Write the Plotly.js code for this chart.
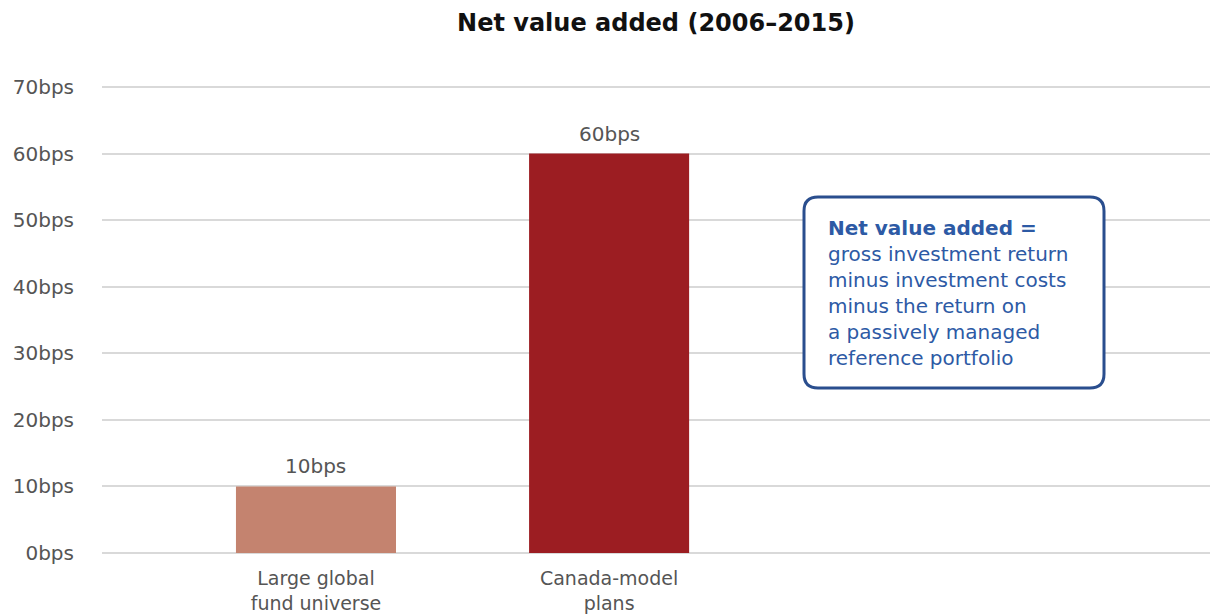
<!DOCTYPE html>
<html>
<head>
<meta charset="utf-8">
<script src="https://cdn.plot.ly/plotly-3.0.1.min.js"></script>
<style>html,body{margin:0;padding:0;background:#fff;}#chart{width:1210px;height:615px;}</style>
</head>
<body>
<div id="chart"></div>
<script>
const categories = ["Large global<br>fund universe", "Canada-model<br>plans"];
const values = [10, 60];
const barColors = ["#c4836f", "#9c1d22"];
const yTickValues = [0, 10, 20, 30, 40, 50, 60, 70];
const yTickLabels = ["0bps", "10bps", "20bps", "30bps", "40bps", "50bps", "60bps", "70bps"];
const barLabels = ["10bps", "60bps"];
const titleText = "Net value added (2006–2015)";
const boxText = "<b>Net value added =</b><br>gross investment return<br>minus investment costs<br>minus the return on<br>a passively managed<br>reference portfolio";

const FONT = "DejaVu Sans, Noto Sans, sans-serif";
const L = 102, R = 0, T = 86, B = 62, W = 1210, H = 615;
const pw = W - L - R, ph = H - T - B;
const YMAX = 70.15;
function px(x) { return (x - L) / pw; }
function py(y) { return (H - B - y) / ph; }

const bx0 = px(804), bx1 = px(1104), byT = py(197), byB = py(388);
const rx = 14 / pw, ry = 14 / ph;
const boxPath = `M ${bx0+rx},${byT} L ${bx1-rx},${byT} Q ${bx1},${byT} ${bx1},${byT-ry} ` +
  `L ${bx1},${byB+ry} Q ${bx1},${byB} ${bx1-rx},${byB} L ${bx0+rx},${byB} ` +
  `Q ${bx0},${byB} ${bx0},${byB+ry} L ${bx0},${byT-ry} Q ${bx0},${byT} ${bx0+rx},${byT} Z`;

const trace = {
  type: "bar",
  x: categories,
  y: values,
  marker: { color: barColors },
  width: 0.546,
  hoverinfo: "skip"
};

const barAnnotations = categories.map((c, i) => ({
  xref: "x", yref: "y",
  x: c, y: values[i],
  xanchor: "center", yanchor: "bottom",
  yshift: 6,
  showarrow: false,
  text: barLabels[i],
  font: { family: FONT, size: 20, color: "#555555" }
}));

const topTick = yTickValues[yTickValues.length - 1];

const layout = {
  width: W, height: H,
  margin: { l: L, r: R, t: T, b: B, pad: 0 },
  paper_bgcolor: "#ffffff",
  plot_bgcolor: "#ffffff",
  showlegend: false,
  title: {
    text: "<b>" + titleText + "</b>",
    font: { family: FONT, size: 24, color: "#111111" },
    x: 0.5, xref: "paper", xanchor: "center",
    y: 1 - 23 / H, yref: "container", yanchor: "middle"
  },
  xaxis: {
    type: "category",
    range: [-0.73, 3.05],
    showgrid: false,
    showline: false,
    zeroline: false,
    ticks: "",
    tickfont: { family: FONT, size: 19, color: "#555555" },
    ticklabelstandoff: 12,
    fixedrange: true
  },
  yaxis: {
    range: [0, YMAX],
    tickvals: yTickValues,
    ticktext: yTickLabels,
    showgrid: true,
    gridcolor: "#d9d9d9",
    gridwidth: 2,
    zeroline: true,
    zerolinecolor: "#d9d9d9",
    zerolinewidth: 2,
    showline: false,
    ticks: "",
    tickfont: { family: FONT, size: 20, color: "#555555" },
    ticklabelstandoff: 27,
    fixedrange: true
  },
  shapes: [{
    type: "line",
    xref: "paper", yref: "y",
    x0: 0, x1: 1, y0: topTick, y1: topTick,
    line: { color: "#d9d9d9", width: 2 },
    layer: "below"
  }, {
    type: "path",
    xref: "paper", yref: "paper",
    path: boxPath,
    line: { color: "#2a4e8e", width: 3 },
    fillcolor: "#ffffff",
    layer: "above"
  }],
  annotations: barAnnotations.concat([{
    xref: "paper", yref: "paper",
    x: px(826), y: py(214),
    xanchor: "left", yanchor: "top",
    align: "left",
    showarrow: false,
    text: boxText,
    font: { family: FONT, size: 20, color: "#2d5aa5" }
  }])
};

Plotly.newPlot("chart", [trace], layout, { displayModeBar: false, staticPlot: true });
</script>
</body>
</html>
